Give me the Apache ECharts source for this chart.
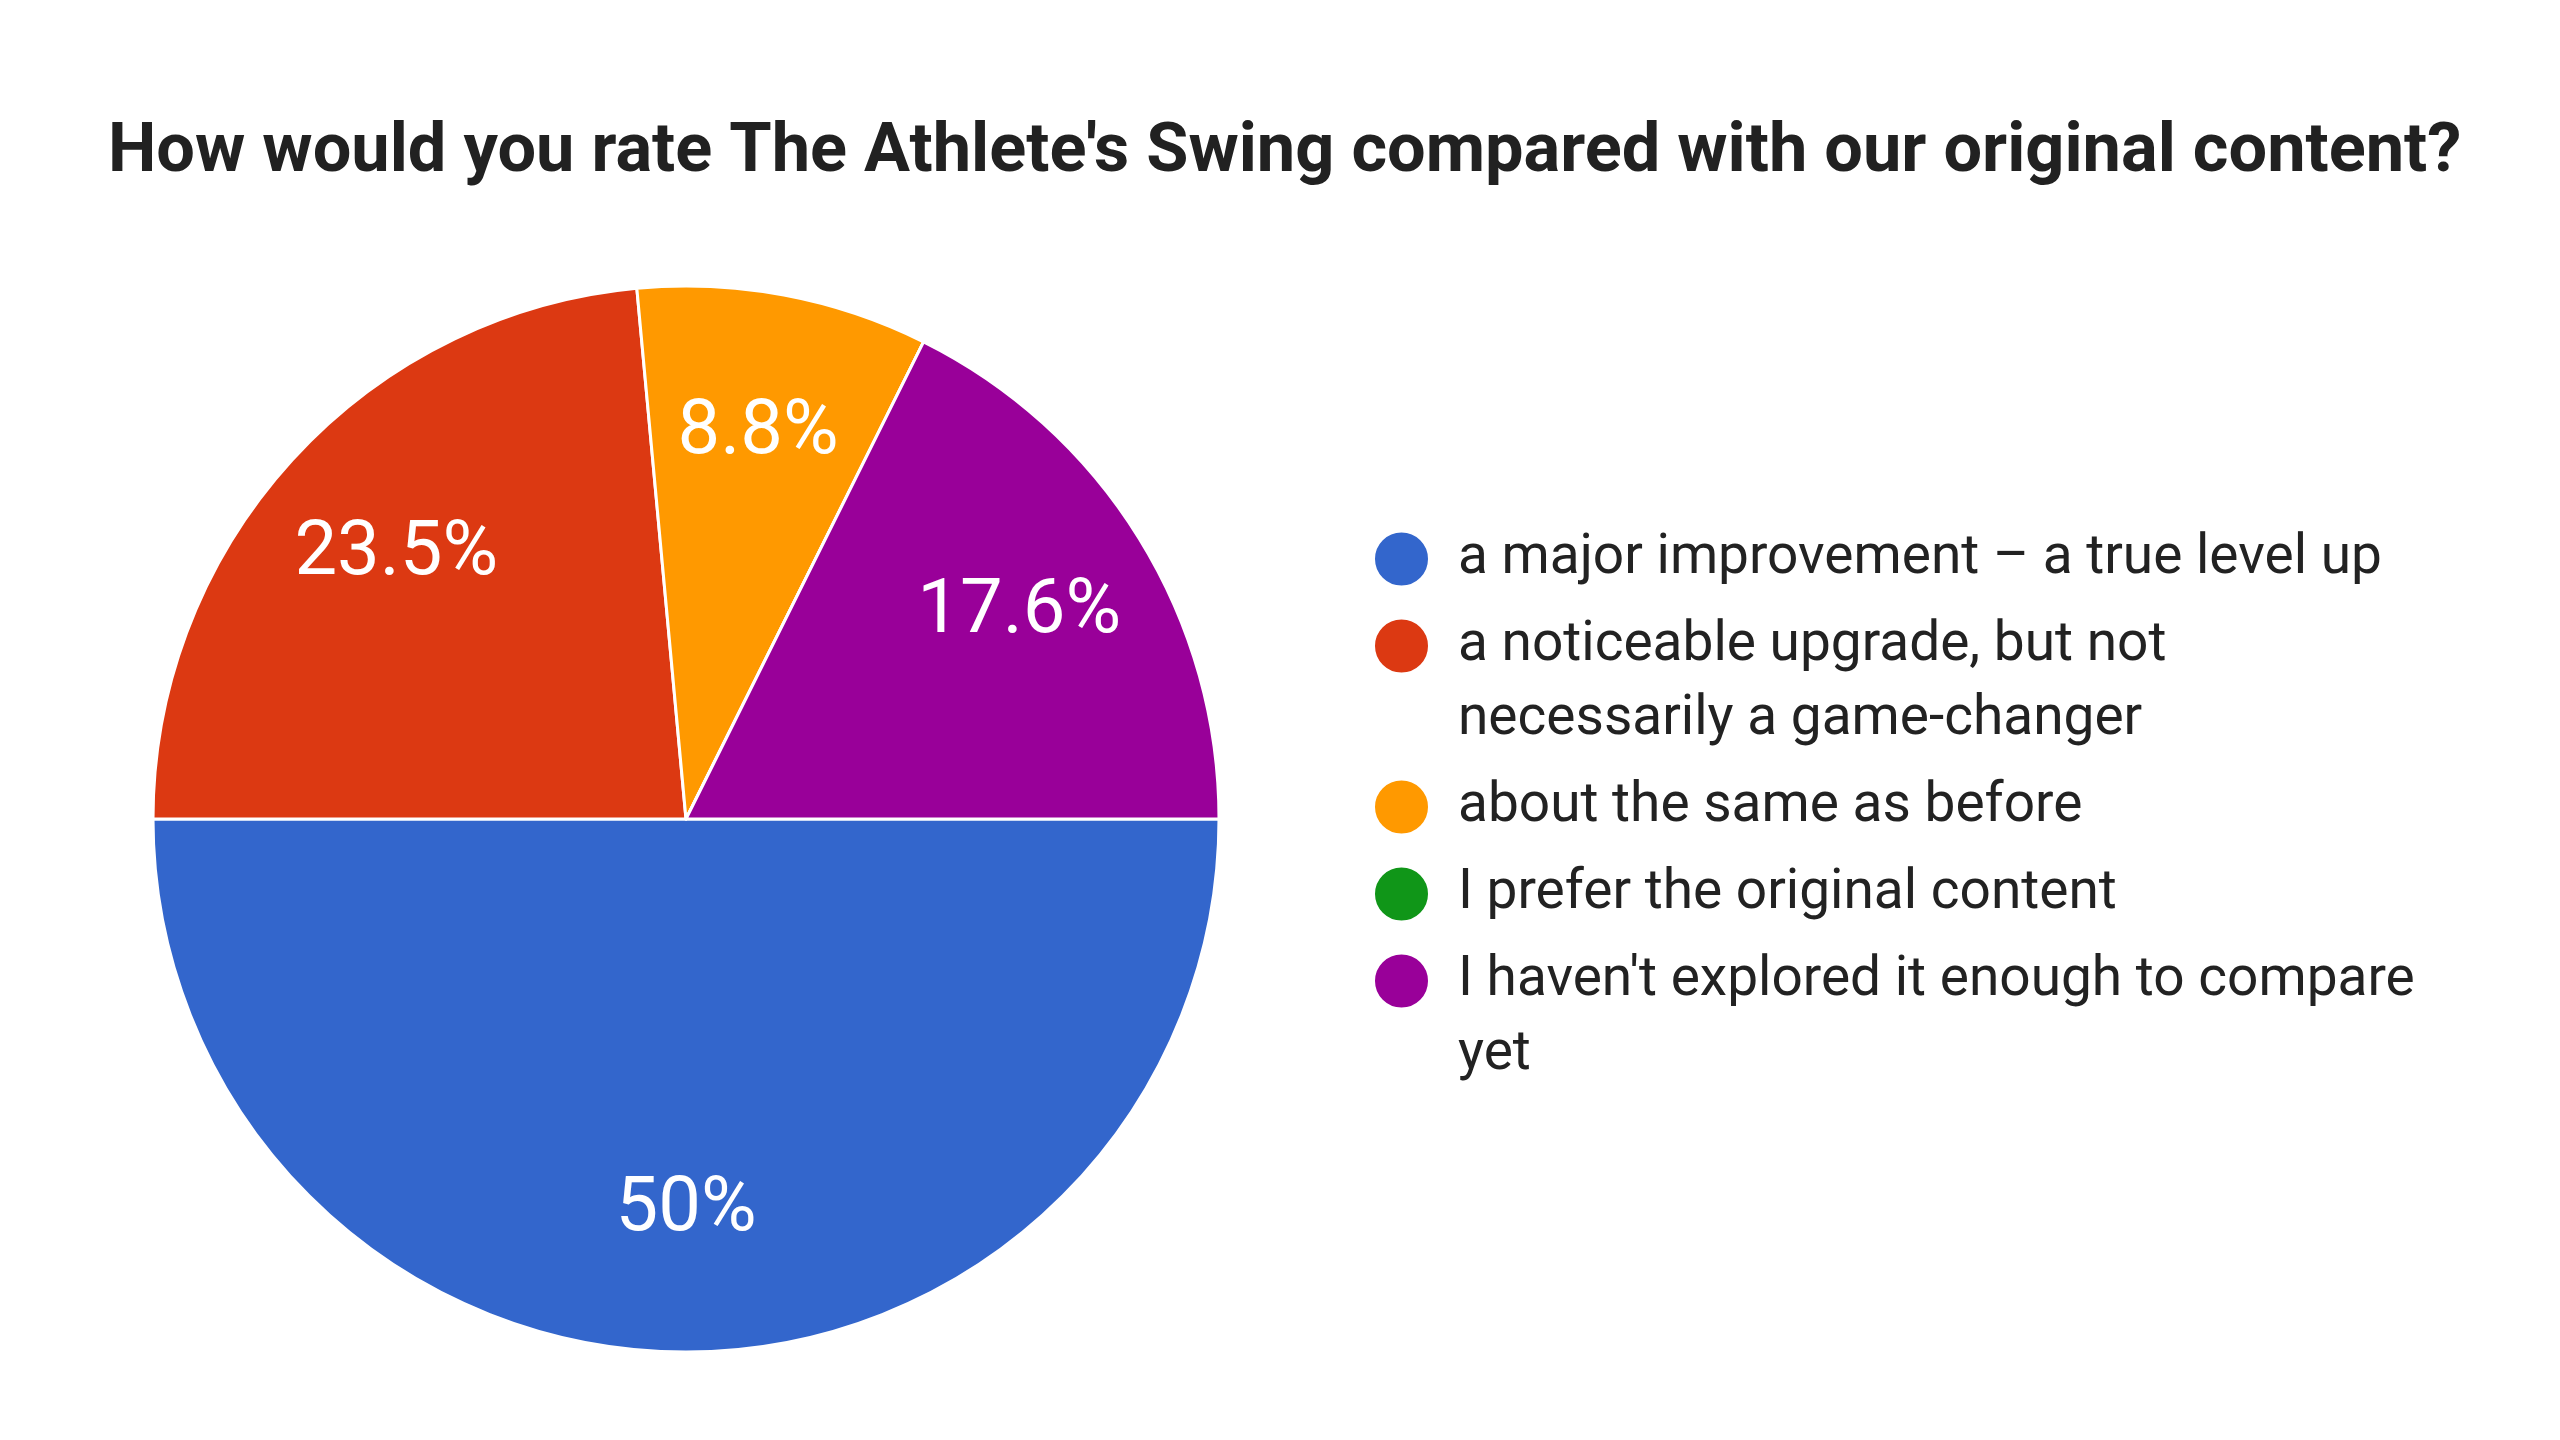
<!DOCTYPE html>
<html>
<head>
<meta charset="utf-8">
<script src="https://cdn.jsdelivr.net/npm/echarts@6/dist/echarts.min.js"></script>
<style>
  html, body { margin: 0; padding: 0; background: #fff; }
  #main { width: 2560px; height: 1440px; }
</style>
</head>
<body>
<div id="main"></div>
<script>
var chartTitle = "How would you rate The Athlete's Swing compared with our original content?";
var categories = [
    'a major improvement \u2013 a true level up',
    'a noticeable upgrade, but not necessarily a game-changer',
    'about the same as before',
    'I prefer the original content',
    "I haven't explored it enough to compare yet"
];
var responses = [17, 8, 3, 0, 6];
var colors = ['#3366cc', '#dc3912', '#ff9900', '#109618', '#990099'];
// where the legend text wraps onto a second line
var wrapAfter = [null, 'but not', null, null, 'compare'];

var total = responses.reduce(function (a, b) { return a + b; }, 0);

var chart = echarts.init(document.getElementById('main'));

function legendText(name) {
    var i = categories.indexOf(name);
    var cut = wrapAfter[i];
    if (cut) {
        var p = name.indexOf(cut) + cut.length;
        // blank first line keeps the dot level with the first text line
        return '\n' + name.slice(0, p) + '\n' + name.slice(p + 1);
    }
    if (i > 0 && wrapAfter[i - 1]) {
        return '\n' + name + '\n';
    }
    return name;
}

var pieData = categories.map(function (c, i) {
    return { name: c, value: responses[i] };
});

var option = {
    color: colors,
    title: {
        text: chartTitle,
        left: 103,
        top: 114,
        textStyle: {
            fontFamily: 'Roboto',
            fontWeight: 'bold',
            fontSize: 68.5,
            color: '#212121'
        }
    },
    legend: {
        orient: 'vertical',
        left: 1368,
        top: 517,
        icon: 'circle',
        itemWidth: 55,
        itemHeight: 55,
        itemGap: -61,
        selectedMode: false,
        data: categories,
        formatter: legendText,
        textStyle: {
            fontFamily: 'Roboto',
            fontSize: 55,
            lineHeight: 74,
            color: '#222222',
            padding: [0, 0, 0, 24]
        }
    },
    series: [
        {
            type: 'pie',
            center: [686, 819],
            radius: [0, 533],
            startAngle: 0,
            clockwise: true,
            silent: true,
            data: pieData,
            itemStyle: {
                borderColor: '#ffffff',
                borderWidth: 3
            },
            label: { show: false },
            labelLine: { show: false }
        },
        {
            // label carrier: same slices, placed so the inside labels sit at ~0.73 r
            type: 'pie',
            center: [686, 819],
            radius: [0, 778],
            startAngle: 0,
            clockwise: true,
            silent: true,
            z: 3,
            data: pieData,
            itemStyle: { color: 'rgba(0,0,0,0)' },
            label: {
                show: true,
                position: 'inside',
                fontFamily: 'Roboto',
                fontSize: 76,
                color: '#ffffff',
                formatter: function (p) {
                    if (!p.value) return '';
                    return Math.round(p.value / total * 1000) / 10 + '%';
                }
            },
            labelLine: { show: false }
        }
    ]
};

chart.setOption(option);
</script>
</body>
</html>
